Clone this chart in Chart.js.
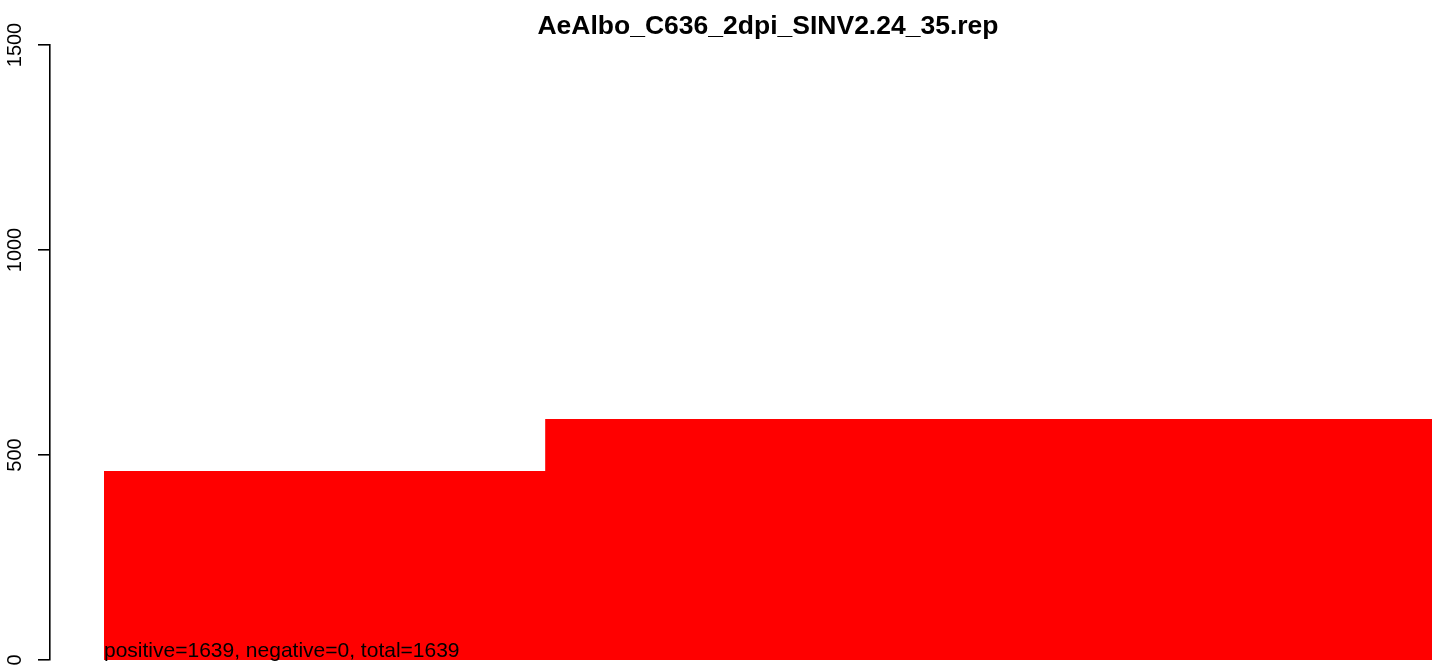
<!DOCTYPE html>
<html>
<head>
<meta charset="utf-8">
<script src="https://cdn.jsdelivr.net/npm/chart.js@4"></script>
<style>
  html, body { margin: 0; padding: 0; background: #fff; }
  #wrap { width: 1439px; height: 666px; }
</style>
</head>
<body>
<div id="wrap"><canvas id="chart" width="1439" height="666"></canvas></div>
<script>
// step edges and heights of the red blocks
const title = "AeAlbo_C636_2dpi_SINV2.24_35.rep";
const edges = [0, 1, 3.01];
const positive = [461, 588];
const negative = [0, 0];
const yTicks = [0, 500, 1000, 1500];
const note = "positive=1639, negative=0, total=1639";

// stepped points, last height repeated to close the block at the right edge
let posPoints = edges.map((x, i) => ({ x: x, y: positive[Math.min(i, positive.length - 1)] }));
let negPoints = [{ x: edges[0], y: negative[0] }, { x: edges[1], y: negative[1] }];

const font = '"Liberation Sans", Arial, sans-serif';

let textPlugin = {
    id: 'rtext',
    afterDraw(chart) {
        let ctx = chart.ctx;
        let xs = chart.scales.x;
        let ys = chart.scales.y;
        ctx.save();
        ctx.fillStyle = '#000';

        // title, centred on the plot region
        ctx.font = 'bold 26.5px ' + font;
        ctx.textAlign = 'center';
        ctx.textBaseline = 'alphabetic';
        ctx.fillText(title, xs.getPixelForValue(1.505), 34);

        // rotated y labels
        ctx.font = '20px ' + font;
        yTicks.forEach(v => {
            ctx.save();
            ctx.translate(15, ys.getPixelForValue(v));
            ctx.rotate(-Math.PI / 2);
            ctx.textAlign = 'center';
            ctx.textBaseline = 'middle';
            ctx.fillText(String(v), 0, 0);
            ctx.restore();
        });

        // summary line at the base
        ctx.font = '21px ' + font;
        ctx.textAlign = 'left';
        ctx.textBaseline = 'alphabetic';
        ctx.fillText(note, xs.getPixelForValue(edges[0]), ys.getPixelForValue(0) - 3);
        ctx.restore();
    }
};

let config = {
    type: 'line',
    data: {
        datasets: [{
            label: 'positive',
            data: posPoints,
            stepped: 'before',
            fill: 'origin',
            backgroundColor: '#ff0000',
            borderWidth: 0,
            pointRadius: 0
        }, {
            label: 'negative',
            data: negPoints,
            fill: false,
            borderColor: '#808080',
            borderWidth: 1,
            pointRadius: 0
        }]
    },
    options: {
        responsive: false,
        animation: false,
        events: [],
        layout: { padding: { top: 45, bottom: 6, right: 7, left: 0 } },
        plugins: { legend: { display: false }, tooltip: { enabled: false } },
        scales: {
            x: {
                type: 'linear',
                display: false,
                min: -0.1224,
                max: 3.01
            },
            y: {
                min: 0,
                max: 1500,
                afterFit: function(scale) { scale.width = 50; },
                ticks: { display: false, stepSize: 500 },
                grid: { drawOnChartArea: false, tickLength: 12, color: '#000', lineWidth: 1.6 },
                border: { display: true, color: '#000', width: 1.6 }
            }
        }
    },
    plugins: [textPlugin]
};

let chart = new Chart(document.getElementById('chart'), config);
</script>
</body>
</html>
